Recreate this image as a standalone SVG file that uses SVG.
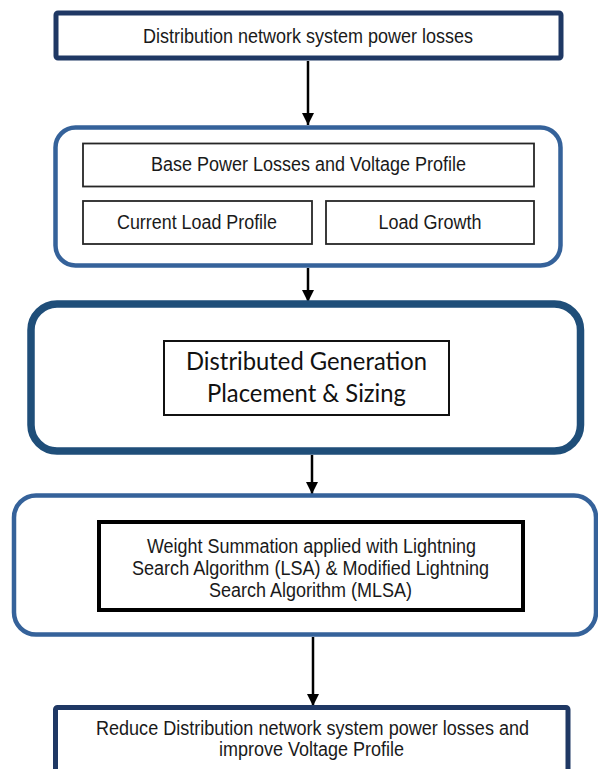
<svg xmlns="http://www.w3.org/2000/svg" width="598" height="769" viewBox="0 0 598 769">
<defs>
<style>
.navy{fill:#fff;stroke:#1f3864;stroke-width:5}
.steel{fill:#fff;stroke:#35629a;stroke-width:4.5}
.dark{fill:#fff;stroke:#1f4e79;stroke-width:7.5}
.inner{fill:#fff;stroke:#262626;stroke-width:1.8}
.t{font-family:"Liberation Sans",Arial,sans-serif;font-size:19.5px;fill:#1a1a1a;text-anchor:middle}
.c{font-family:Lato,"Open Sans",sans-serif;font-size:25px;fill:#111;text-anchor:middle}
.conn{stroke:#000;stroke-width:2.5;fill:none}
</style>
<marker id="ah" viewBox="0 0 10 10" refX="10" refY="5" markerWidth="5" markerHeight="5" markerUnits="strokeWidth" orient="auto">
<path d="M0,0 L10,5 L0,10 Z" fill="#000"/>
</marker>
</defs>
<rect width="598" height="769" fill="#fff"/>
<g id="connectors">
<line class="conn" x1="308" y1="61" x2="308" y2="125" marker-end="url(#ah)"/>
<line class="conn" x1="308" y1="268" x2="308" y2="302" marker-end="url(#ah)"/>
<line class="conn" x1="312" y1="455" x2="312" y2="494" marker-end="url(#ah)"/>
<line class="conn" x1="313" y1="637" x2="313" y2="706" marker-end="url(#ah)"/>
</g>
<g id="node-losses">
<rect class="navy" x="56" y="13" width="505" height="45" rx="2"/>
<text class="t" x="308" y="43" textLength="330" lengthAdjust="spacingAndGlyphs">Distribution network system power losses</text>
</g>
<g id="node-inputs">
<rect class="steel" x="55.5" y="127.5" width="505" height="138" rx="20"/>
<g id="node-base">
<rect class="inner" x="83" y="143.5" width="451" height="43"/>
<text class="t" x="308.5" y="171" textLength="315" lengthAdjust="spacingAndGlyphs">Base Power Losses and Voltage Profile</text>
</g>
<g id="node-current">
<rect class="inner" x="83" y="201" width="229" height="43"/>
<text class="t" x="197" y="229" textLength="160" lengthAdjust="spacingAndGlyphs">Current Load Profile</text>
</g>
<g id="node-growth">
<rect class="inner" x="326" y="201" width="208" height="43"/>
<text class="t" x="430" y="229" textLength="103" lengthAdjust="spacingAndGlyphs">Load Growth</text>
</g>
</g>
<g id="node-dg">
<rect class="dark" x="31" y="304" width="549.5" height="147" rx="26"/>
<rect fill="#fff" stroke="#111" stroke-width="2" x="164" y="341" width="285" height="74"/>
<text class="c" x="306.5" y="370" textLength="241" lengthAdjust="spacingAndGlyphs">Distributed Generation</text>
<text class="c" x="306.5" y="402" textLength="199" lengthAdjust="spacingAndGlyphs">Placement &amp; Sizing</text>
</g>
<g id="node-lsa">
<rect class="steel" x="14" y="495.5" width="582" height="139" rx="22"/>
<rect fill="#fff" stroke="#000" stroke-width="4" x="99" y="522" width="424" height="88"/>
<text class="t" x="311.5" y="553" textLength="329" lengthAdjust="spacingAndGlyphs">Weight Summation applied with Lightning</text>
<text class="t" x="310.5" y="575" textLength="357" lengthAdjust="spacingAndGlyphs">Search Algorithm (LSA) &amp; Modified Lightning</text>
<text class="t" x="310.5" y="597" textLength="203" lengthAdjust="spacingAndGlyphs">Search Algorithm (MLSA)</text>
</g>
<g id="node-reduce">
<rect class="navy" x="55.5" y="707.5" width="512.5" height="80" rx="2"/>
<text class="t" x="312.5" y="735" textLength="433" lengthAdjust="spacingAndGlyphs">Reduce Distribution network system power losses and</text>
<text class="t" x="311.5" y="756" textLength="185" lengthAdjust="spacingAndGlyphs">improve Voltage Profile</text>
</g>
</svg>
